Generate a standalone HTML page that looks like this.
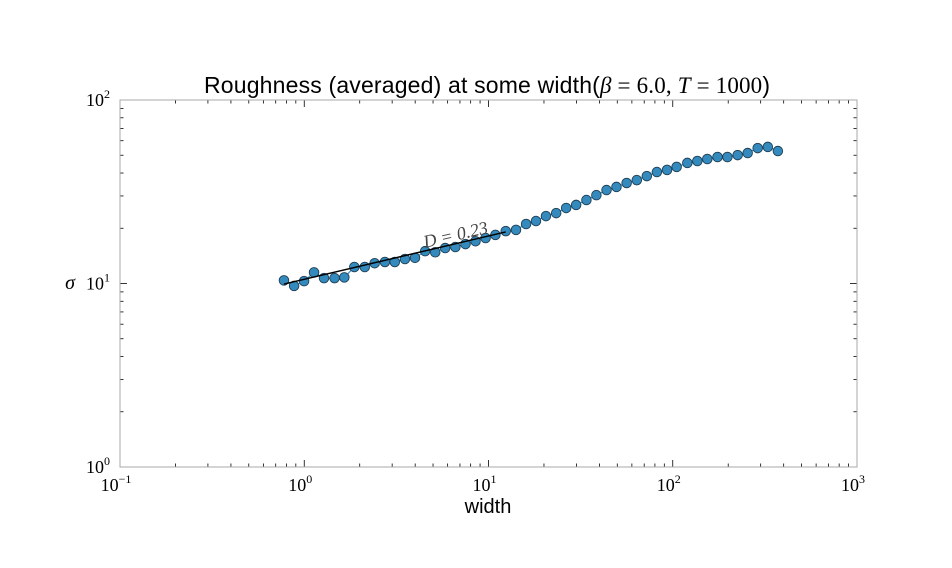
<!DOCTYPE html>
<html><head><meta charset="utf-8"><style>
body{margin:0;background:#fff;}
svg{display:block;}
</style></head><body>
<svg id="chart" width="952" height="568" xmlns="http://www.w3.org/2000/svg">
<rect width="952" height="568" fill="#fff"/>
<text x="487" y="93" text-anchor="middle" font-family="Liberation Sans, sans-serif" font-size="23" textLength="566">Roughness (averaged) at some width(<tspan font-family="Liberation Serif, serif" font-style="italic">β</tspan><tspan font-family="Liberation Serif, serif"> = 6.0, </tspan><tspan font-family="Liberation Serif, serif" font-style="italic">T</tspan><tspan font-family="Liberation Serif, serif"> = 1000</tspan>)</text>
<text x="488" y="513" text-anchor="middle" font-family="Liberation Sans, sans-serif" font-size="20">width</text>
<text x="70" y="289" text-anchor="middle" font-family="Liberation Serif, serif" font-style="italic" font-size="20">σ</text>
<g id="ticks"></g>
<g id="marks"></g>
<rect x="120" y="100" width="737" height="367" fill="none" stroke="#aaa" stroke-width="1"/>
</svg>
<script>
const xValues=[0.776,0.881,0.998,1.13,1.28,1.46,1.65,1.87,2.13,2.41,2.74,3.10,3.52,3.99,4.53,5.14,5.82,6.61,7.50,8.50,9.64,10.9,12.4,14.1,16.0,18.1,20.5,23.3,26.4,29.9,34.0,38.5,43.7,49.5,56.2,63.8,72.3,82.0,93.1,105,120,136,154,175,198,225,255,289,328,372];
const sigmaValues=[10.4,9.7,10.3,11.5,10.7,10.7,10.8,12.3,12.3,12.9,13.1,13.1,13.6,13.8,15.0,14.8,15.6,15.8,16.4,17.0,17.7,18.4,19.3,19.6,21.1,21.9,23.3,24.2,25.8,26.8,28.5,30.3,32.3,33.6,35.3,36.6,38.5,40.5,41.6,43.2,45.4,46.5,47.7,48.9,48.9,50.1,51.4,54.7,55.5,52.7];
const fitX=[0.776,12.4];
const fitY=[9.93,19.1];
const fitLabel="D = 0.23";
const xTickExps=[-1,0,1,2,3];
const yTickExps=[0,1,2];

const L=120,R=857,T=100,B=467;
function sx(v){return L+(Math.log10(v)+1)/4*(R-L);}
function sy(v){return B-Math.log10(v)/2*(B-T);}
const NS="http://www.w3.org/2000/svg";
function mk(tag,attrs,parent){const e=document.createElementNS(NS,tag);for(const k in attrs)e.setAttribute(k,attrs[k]);parent.appendChild(e);return e;}
const tg=document.getElementById('ticks'), mg=document.getElementById('marks');

for(let e=-1;e<=3;e++){
  for(let m=1;m<10;m++){
    if(e===3&&m>1)break;
    const x=sx(m*Math.pow(10,e)), len=m===1?7:3.5;
    const t1=mk('line',{x1:x,x2:x,y1:B,y2:B-len,stroke:'#000','stroke-width':0.8},tg);
    
    
    const t2=mk('line',{x1:x,x2:x,y1:T,y2:T+len,stroke:'#000','stroke-width':0.8},tg);
    
    
  }
}
xTickExps.forEach(e=>{
  const t=mk('text',{x:sx(Math.pow(10,e))-4,y:B+24,'text-anchor':'middle','font-family':'Liberation Serif, serif','font-size':18},tg);
  
  
  t.textContent='10';
  const s=mk('tspan',{dy:-8,'font-size':12},t);s.textContent=String(e).replace('-','−');
});
for(let e=0;e<=2;e++){
  for(let m=1;m<10;m++){
    if(e===2&&m>1)break;
    const y=sy(m*Math.pow(10,e)), len=m===1?7:3.5;
    const t1=mk('line',{x1:L,x2:L+len,y1:y,y2:y,stroke:'#000','stroke-width':0.8},tg);
    
    
    const t2=mk('line',{x1:R,x2:R-len,y1:y,y2:y,stroke:'#000','stroke-width':0.8},tg);
    
    
  }
}
yTickExps.forEach(e=>{
  const t=mk('text',{x:L-10,y:sy(Math.pow(10,e))+6,'text-anchor':'end','font-family':'Liberation Serif, serif','font-size':18},tg);
  
  
  t.textContent='10';
  const s=mk('tspan',{dy:-8,'font-size':12},t);s.textContent=String(e);
});
const pl=mk('polyline',{points:xValues.map((v,i)=>sx(v)+','+sy(sigmaValues[i])).join(' '),fill:'none',stroke:'#348abd','stroke-width':1.2},mg);


xValues.forEach((v,i)=>{
  const c=mk('circle',{cx:sx(v),cy:sy(sigmaValues[i]),r:4.8,fill:'#348abd',stroke:'#1f3f55','stroke-width':0.9},mg);
  
  
});
const x1=sx(fitX[0]),y1=sy(fitY[0]),x2=sx(fitX[1]),y2=sy(fitY[1]);
const fl=mk('line',{x1:x1,y1:y1,x2:x2,y2:y2,stroke:'#000','stroke-width':1.5},mg);


const ang=Math.atan2(y2-y1,x2-x1)*180/Math.PI;
const lx=x1+(x2-x1)*0.78, ly=y1+(y2-y1)*0.78-3;
const lab=mk('text',{x:lx,y:ly,'text-anchor':'middle','font-family':'Liberation Serif, serif','font-style':'italic','font-size':18,fill:'#444',transform:'rotate('+ang+' '+lx+' '+ly+')'},mg);


lab.textContent=fitLabel;
</script>
</body></html>
